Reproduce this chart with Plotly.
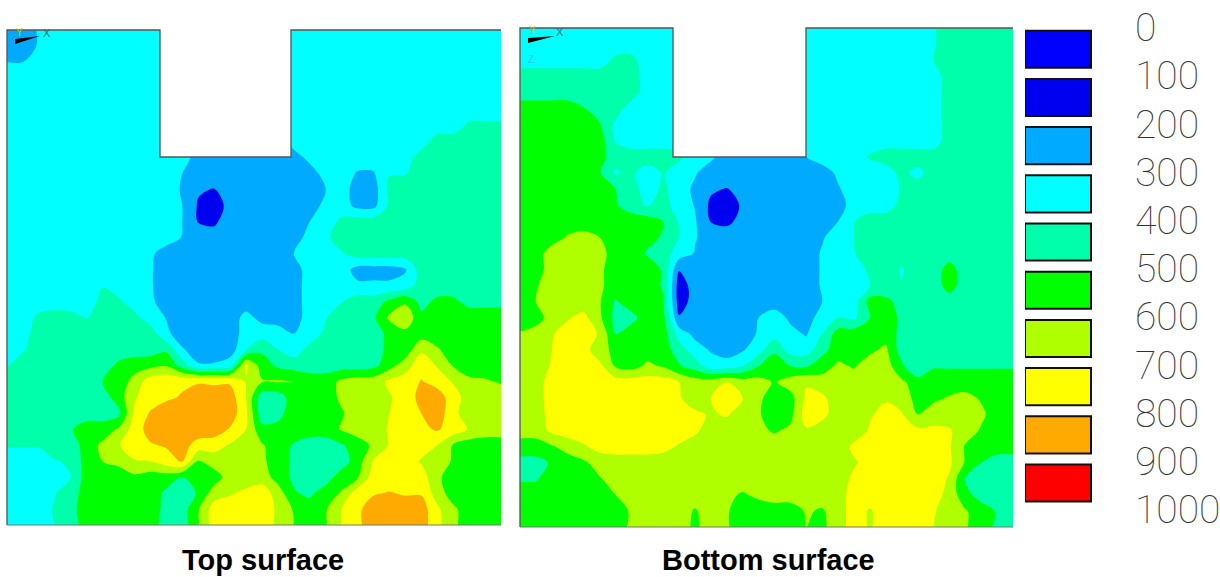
import plotly.graph_objects as go

levels = [0, 100, 200, 300, 400, 500, 600, 700, 800, 900]
level_labels = ["0", "100", "200", "300", "400", "500", "600", "700", "800", "900", "1000"]
band_colors = ["#0000ff", "#0000f0", "#00aaff", "#00ffff", "#00ffaa",
               "#00ff00", "#b0ff00", "#ffff00", "#ffaa00", "#ff0000"]
titles = ["Top surface", "Bottom surface"]

top_surface = [
[250,250,310,350,350,350,350,350,350,350,350,350,350,350,350,350,350,350,350,350,350,350,350,350,350,350,350,350,350,350,350,350],
[250,250,310,350,350,350,350,350,350,350,350,350,350,350,350,350,350,350,350,350,350,350,350,350,350,350,350,350,350,350,350,350],
[300,300,330,350,350,350,350,350,350,350,350,350,350,350,350,350,350,350,350,350,350,350,350,350,350,350,350,350,350,350,350,350],
[350,350,350,350,350,350,350,350,350,350,350,350,350,350,350,350,350,350,350,350,350,350,350,350,350,350,350,350,350,350,350,350],
[350,350,350,350,350,350,350,350,350,350,350,350,350,350,350,350,350,350,350,350,350,350,350,350,350,350,350,350,350,350,350,350],
[350,350,350,350,350,350,350,350,350,350,350,350,350,350,350,350,350,350,350,350,350,350,350,350,350,350,350,350,350,350,350,350],
[350,350,350,350,350,350,350,350,350,350,350,350,350,350,350,350,350,350,350,350,350,350,350,350,350,350,350,350,350,420,420,420],
[350,350,350,350,350,350,350,350,350,350,350,350,250,250,250,250,250,250,350,350,350,350,350,350,350,350,350,450,450,450,450,450],
[350,350,350,350,350,350,350,350,350,350,350,350,250,250,250,250,250,250,250,330,350,350,350,350,350,350,450,450,450,450,450,450],
[350,350,350,350,350,350,350,350,350,350,350,300,250,250,250,250,250,250,250,250,340,350,290,290,395,395,450,450,450,450,450,450],
[350,350,350,350,350,350,350,350,350,350,350,290,210,195,250,250,250,250,250,250,300,350,250,250,430,450,450,450,450,450,450,450],
[350,350,350,350,350,350,350,350,350,350,350,300,190,140,240,250,250,250,250,250,330,350,270,270,420,450,450,450,450,450,450,450],
[350,350,350,350,350,350,350,350,350,350,350,300,195,180,260,250,250,250,250,300,350,420,450,450,450,450,450,450,450,450,450,450],
[350,350,350,350,350,350,350,350,350,350,350,295,250,250,250,250,250,250,250,340,380,450,450,450,450,450,450,450,450,450,450,450],
[350,350,350,350,350,350,350,350,350,320,250,250,250,250,250,250,250,250,300,350,350,390,450,450,450,450,450,450,450,450,450,450],
[350,350,350,350,350,350,350,350,350,310,250,250,250,250,250,250,250,250,250,350,350,350,260,260,260,290,450,450,450,450,450,450],
[350,350,350,350,350,350,395,350,350,310,250,250,250,250,250,250,250,250,250,350,350,350,320,320,320,340,450,450,450,450,450,450],
[350,350,350,350,350,350,430,420,350,320,250,250,250,250,250,250,250,250,250,350,350,395,450,450,520,580,470,520,520,470,470,470],
[350,350,420,440,430,395,440,450,430,350,295,250,250,250,250,330,270,250,250,350,395,450,450,480,620,680,520,550,550,550,550,550],
[350,360,450,450,450,450,450,450,450,450,320,250,250,250,250,340,350,350,300,350,420,450,450,450,530,570,550,550,550,550,550,550],
[350,390,450,450,450,450,450,450,450,450,480,310,250,250,250,390,480,400,350,430,450,450,450,450,530,540,680,610,550,550,550,550],
[390,450,450,450,450,450,450,520,550,570,590,450,310,310,350,720,550,480,450,450,450,450,450,470,560,650,770,690,590,550,550,550],
[450,450,450,450,450,450,500,530,640,750,780,780,790,790,785,690,610,610,605,550,550,620,650,650,720,750,805,760,690,620,610,590],
[450,450,450,450,450,450,450,550,690,750,780,810,850,830,850,700,440,450,550,550,550,620,650,650,690,750,830,850,750,650,650,650],
[450,450,450,450,450,450,450,470,720,810,860,860,860,860,860,720,440,470,550,550,550,590,650,650,700,750,800,860,730,640,650,650],
[450,450,450,450,490,550,550,610,750,840,860,860,860,860,790,700,530,530,550,550,550,610,650,650,710,750,780,810,760,690,650,650],
[410,410,410,450,440,550,620,690,770,790,810,840,760,740,690,640,610,550,490,450,450,490,550,620,710,750,750,700,590,550,550,550],
[350,350,350,395,410,550,600,620,690,700,760,810,590,650,650,650,620,550,480,450,450,450,550,710,750,750,690,650,590,550,550,550],
[350,350,350,350,399,550,550,560,580,550,550,500,550,550,650,650,650,560,480,450,450,550,590,750,750,750,750,620,550,550,550,550],
[350,350,350,395,450,550,550,550,550,550,480,450,510,650,690,720,760,650,510,480,550,610,760,790,805,790,790,650,550,550,550,550],
[350,350,350,410,470,550,550,550,550,550,470,450,590,750,750,750,770,680,590,550,590,700,780,850,850,850,850,720,620,550,550,550],
[350,350,350,400,450,550,550,550,550,550,450,450,590,750,750,750,750,680,600,550,590,700,780,850,850,850,850,730,620,550,550,550],
]

bottom_surface = [
[350,350,350,350,350,350,350,350,350,350,350,350,350,350,350,350,350,350,350,350,350,350,350,350,350,350,390,450,450,450,450,450],
[350,350,350,350,350,350,350,350,350,350,350,350,350,350,350,350,350,350,350,350,350,350,350,350,350,350,390,450,450,450,450,450],
[350,350,350,350,350,350,420,430,350,350,350,350,350,350,350,350,350,350,350,350,350,350,350,350,350,350,400,450,450,450,450,450],
[450,450,450,450,450,450,450,450,350,350,350,350,350,350,350,350,350,350,350,350,350,350,350,350,350,350,350,450,450,450,450,450],
[450,450,450,450,450,450,450,450,350,350,350,350,350,350,350,350,350,350,350,350,350,350,350,350,350,350,350,450,450,450,450,450],
[550,550,550,550,505,450,450,350,350,350,350,350,350,350,350,350,350,350,350,350,350,350,350,350,350,350,350,450,450,450,450,450],
[550,550,550,550,550,510,380,350,350,350,350,350,350,350,350,350,350,350,350,350,350,350,350,350,350,350,350,450,450,450,450,450],
[550,550,550,550,550,550,395,350,350,350,350,350,350,250,250,250,250,250,350,350,350,350,350,350,350,350,350,450,450,450,450,450],
[550,550,550,550,550,550,430,450,450,450,420,350,320,250,250,250,250,250,300,350,350,350,410,450,450,450,450,450,450,450,450,450],
[550,550,550,550,550,510,390,420,350,410,350,310,250,250,250,250,250,250,250,250,320,350,350,350,430,370,450,450,450,450,450,450],
[550,550,550,550,550,550,500,450,350,420,350,280,215,195,250,250,250,250,250,250,290,350,350,350,410,450,450,450,450,450,450,450],
[550,550,550,550,550,550,510,450,390,440,350,295,180,130,220,250,250,250,250,250,250,350,350,350,430,450,450,450,450,450,450,450],
[550,550,550,550,550,550,550,550,550,500,390,310,195,170,240,250,250,250,250,250,300,395,450,450,450,450,450,450,450,450,450,450],
[550,550,550,610,630,600,550,550,530,490,400,305,270,270,250,250,250,250,250,290,350,400,450,450,450,450,450,450,450,450,450,450],
[550,550,650,650,650,640,550,550,490,450,350,295,250,250,250,250,250,250,250,310,350,395,450,450,450,450,450,450,450,450,450,450],
[550,560,640,650,650,620,550,550,550,490,205,250,250,250,250,250,250,250,250,310,350,350,420,450,392,450,450,540,450,450,450,450],
[550,590,650,650,650,620,550,550,550,490,150,240,250,250,250,250,250,250,250,310,350,350,400,450,405,450,450,540,450,450,450,450],
[570,600,650,650,650,610,490,550,550,510,150,240,250,250,250,250,250,250,250,300,350,350,540,520,470,450,450,450,450,450,450,450],
[540,550,650,690,730,620,470,470,550,530,210,290,250,250,250,300,350,280,250,350,400,380,500,550,480,450,450,450,450,450,450,450],
[610,650,690,750,750,690,500,550,550,550,360,270,250,250,250,310,360,330,290,400,550,560,580,560,470,450,450,450,450,450,450,450],
[650,650,700,750,750,630,580,560,550,550,450,350,290,250,290,360,480,360,350,470,550,550,580,620,450,450,450,450,450,450,450,450],
[650,650,710,750,750,730,590,560,620,590,510,450,350,350,400,500,560,500,490,550,620,590,650,650,520,395,490,490,490,490,490,490],
[650,650,750,750,750,750,750,750,750,750,700,650,650,700,650,640,590,650,690,650,650,650,650,650,620,550,550,550,550,550,550,550],
[650,650,750,750,750,750,750,750,750,750,710,650,700,750,705,620,550,560,720,720,650,650,650,690,650,570,580,610,630,590,550,550],
[650,650,740,750,750,750,750,750,750,750,750,720,690,710,650,610,550,570,750,730,650,650,690,730,710,600,650,650,650,620,550,550],
[650,650,720,750,750,750,750,750,750,750,750,720,650,650,650,620,590,620,690,650,650,650,710,750,750,720,720,710,650,590,550,550],
[550,550,590,640,690,730,750,750,750,730,690,650,650,650,650,650,650,650,650,650,650,720,750,750,750,750,750,710,590,550,550,550],
[470,470,510,550,580,650,650,650,650,650,650,650,650,650,650,650,650,650,650,650,650,690,730,750,750,750,750,720,590,500,450,450],
[490,490,550,550,550,590,650,650,650,650,650,650,650,650,650,650,650,650,650,650,650,720,750,750,750,750,750,690,490,450,450,450],
[550,550,550,550,550,530,600,650,650,650,650,650,650,620,590,620,650,650,650,650,650,750,750,750,750,750,740,670,530,460,450,450],
[550,550,550,550,550,550,560,610,650,650,650,590,650,610,550,550,550,550,610,590,650,750,690,750,750,750,710,650,610,550,490,450],
[550,550,550,550,550,550,550,620,650,650,650,580,650,610,550,550,550,550,600,580,650,750,690,750,750,750,700,650,610,550,480,450],
]

for grid in (top_surface, bottom_surface):
    assert len(grid) == 32 and all(len(r) == 32 for r in grid), [len(r) for r in grid]

W, H = 1220, 577
grid_axis = list(range(32))

scale = []
for k, c in enumerate(band_colors):
    scale += [[k / 10, c], [(k + 1) / 10, c]]


def px(x):
    return x / W


def py(y):
    return 1 - y / H


fig = go.Figure()
panels = [
    (top_surface, "x", "y", (7, 501), (30, 525), (160, 291, 157)),
    (bottom_surface, "x2", "y2", (520, 1013), (28, 527), (673, 806, 157)),
]
shapes = []
for grid, xa, ya, (xl, xr), (yt, yb), (nl, nr, nb) in panels:
    fig.add_trace(go.Contour(
        z=grid, x=grid_axis, y=grid_axis, xaxis=xa, yaxis=ya,
        zmin=0, zmax=1000, colorscale=scale, showscale=False,
        contours=dict(start=0, end=1000, size=100, coloring="fill", showlines=False),
        line=dict(width=0, smoothing=1.0), hoverinfo="skip",
    ))
    shapes.append(dict(type="rect", xref="paper", yref="paper", x0=px(nl), x1=px(nr), y0=py(yt - 2), y1=py(nb),
                       fillcolor="white", line=dict(width=0), layer="above"))
    outline = (f"M {px(xl)} {py(yb)} L {px(xl)} {py(yt)} L {px(nl)} {py(yt)} L {px(nl)} {py(nb)} "
               f"L {px(nr)} {py(nb)} L {px(nr)} {py(yt)} L {px(xr)} {py(yt)}")
    shapes.append(dict(type="path", xref="paper", yref="paper", path=outline,
                       line=dict(color="#555555", width=1.3), layer="above"))
    shapes.append(dict(type="line", xref="paper", yref="paper", x0=px(xl), x1=px(xr), y0=py(yb), y1=py(yb),
                       line=dict(color="#777777", width=1.2), layer="above"))

# axis triads
for (x0, y0, x1, y1) in [(15, 43, 40, 36), (528, 42, 555, 36)]:
    shapes.append(dict(type="path", xref="paper", yref="paper",
                       path=f"M {px(x0)} {py(y0 - 4)} L {px(x1)} {py(y1)} L {px(x0)} {py(y0 + 1)} Z",
                       fillcolor="black", line=dict(width=0), layer="above"))

# legend swatches and labels
fig.add_trace(go.Bar(
    y=[v + 40 for v in levels], x=[66] * len(levels), orientation="h", width=77,
    marker=dict(color=band_colors, line=dict(color="#111111", width=2)),
    xaxis="x3", yaxis="y3", hoverinfo="skip", showlegend=False,
))
fig.add_trace(go.Scatter(
    x=[110] * 11, y=[v * 100 + 3 for v in range(11)], text=level_labels, mode="text",
    textposition="middle right", xaxis="x3", yaxis="y3", hoverinfo="skip", showlegend=False,
    textfont=dict(family="Roboto", size=39, color="#333333", weight=100),
))

ann = [
    dict(x=px(263), y=py(560), text="<b>" + titles[0] + "</b>", font=dict(size=29)),
    dict(x=px(768), y=py(560), text="<b>" + titles[1] + "</b>", font=dict(size=29)),
    dict(x=px(19), y=py(33), text="Y", font=dict(size=10, color="#a8c820")),
    dict(x=px(47), y=py(33), text="X", font=dict(size=11, color="#207070")),
    dict(x=px(532), y=py(31), text="Y", font=dict(size=10, color="#a8c820")),
    dict(x=px(560), y=py(32), text="X", font=dict(size=11, color="#207070")),
    dict(x=px(531), y=py(59), text="Z", font=dict(size=10, color="#30c8f0")),
]
for a in ann:
    a.update(xref="paper", yref="paper", showarrow=False, xanchor="center", yanchor="middle")
    a["font"].setdefault("family", "Liberation Sans, Arial")
    a["font"].setdefault("color", "black")

hidden = dict(visible=False, fixedrange=True)
fig.update_layout(
    width=W, height=H, margin=dict(l=0, r=0, t=0, b=0),
    paper_bgcolor="white", plot_bgcolor="white", showlegend=False,
    shapes=shapes, annotations=ann,
    xaxis=dict(domain=[px(7), px(501)], range=[0, 31], **hidden),
    yaxis=dict(domain=[py(525), py(30)], range=[31, 0], **hidden),
    xaxis2=dict(domain=[px(520), px(1013)], range=[0, 31], anchor="y2", **hidden),
    yaxis2=dict(domain=[py(527), py(28)], range=[31, 0], anchor="x2", **hidden),
    xaxis3=dict(domain=[px(1025), 1], range=[0, 195], anchor="y3", **hidden),
    yaxis3=dict(domain=[0, 1], range=[1134.9, -62.2], anchor="x3", **hidden),
)
fig.write_html("out.html", post_script="document.body.style.margin='0';",
               config=dict(displayModeBar=False))
